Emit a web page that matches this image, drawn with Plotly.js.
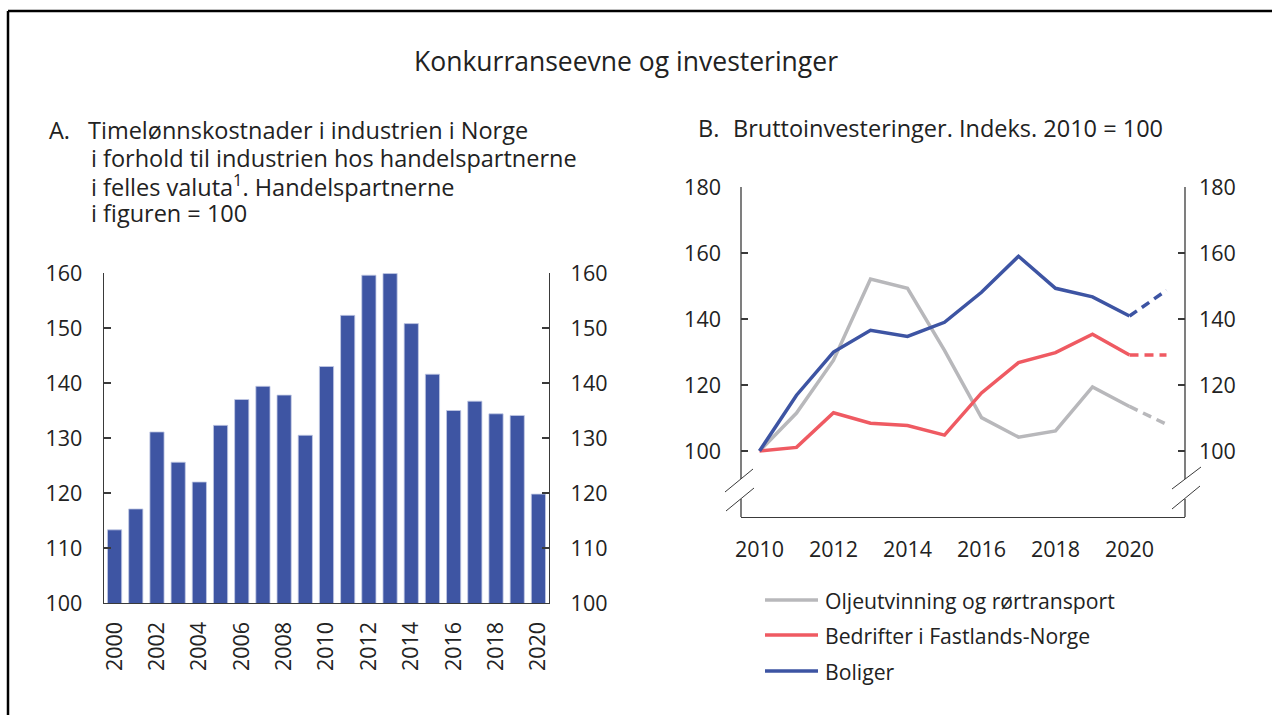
<!DOCTYPE html>
<html><head><meta charset="utf-8">
<script src="https://cdn.plot.ly/plotly-3.0.1.min.js"></script>
<style>html,body{margin:0;padding:0;background:#fff}</style>
</head><body><div id="chart" style="width:1272px;height:715px"></div>
<script>
// ---- Data ----
const barYears = [2000,2001,2002,2003,2004,2005,2006,2007,2008,2009,2010,2011,2012,2013,2014,2015,2016,2017,2018,2019,2020];
const wageCost = [113.3,117.1,131.1,125.6,122.0,132.3,137.0,139.4,137.8,130.5,143.0,152.3,159.6,159.9,150.8,141.6,135.0,136.7,134.4,134.1,119.8];
const barTickVals = [2000,2002,2004,2006,2008,2010,2012,2014,2016,2018,2020];

const lineYears = [2010,2011,2012,2013,2014,2015,2016,2017,2018,2019,2020];
const projYears = [2020,2021];
const seriesNames = ["Oljeutvinning og rørtransport","Bedrifter i Fastlands-Norge","Boliger"];
const oilInv   = [100,111.5,127.5,152.1,149.3,130.5,110.1,104.2,106.1,119.4,113.5];
const oilProj  = [113.5,108.1];
const mainInv  = [100,101.1,111.6,108.4,107.7,104.8,117.6,126.8,129.8,135.4,129.1];
const mainProj = [129.1,129.1];
const homeInv  = [100,116.9,130.0,136.6,134.7,139.0,148.1,159.0,149.3,146.7,140.9];
const homeProj = [140.9,148.7];
const lineTickVals = [2010,2012,2014,2016,2018,2020];
const leftYTicks = [100,110,120,130,140,150,160];
const rightYTicks = [100,120,140,160,180];

const mainTitle = "Konkurranseevne og investeringer";
const titleA = ["Timelønnskostnader i industrien i Norge", "i forhold til industrien hos handelspartnerne",
  "i felles valuta<sup>1</sup>. Handelspartnerne", "i figuren = 100"];
const titleB = "Bruttoinvesteringer. Indeks. 2010 = 100";

// ---- Style ----
const W = 1272, H = 715;
const px = x => x / W, py = y => 1 - y / H;
const FONT = "Open Sans, Noto Sans, sans-serif";
const TXT = "#222222";
const AX = "#3a3a3a";
const colors = ["#b8b8bb", "#ef5a62", "#3d54a3"];
const BAR = "#3e55a3";

const lineSets = [[oilInv, oilProj], [mainInv, mainProj], [homeInv, homeProj]];
const traces = [
  {type: "bar", x: barYears, y: wageCost, xaxis: "x", yaxis: "y",
   marker: {color: BAR, line: {color: "#c3cae4", width: 0.8}}, hoverinfo: "x+y", showlegend: false},
  {type: "scatter", mode: "none", x: barYears, y: wageCost, xaxis: "x", yaxis: "y3", hoverinfo: "skip", showlegend: false},
  {type: "scatter", mode: "none", x: lineYears, y: homeInv, xaxis: "x2", yaxis: "y4", hoverinfo: "skip", showlegend: false}
];
lineSets.forEach((s, i) => {
  traces.push({type: "scatter", mode: "lines", x: lineYears, y: s[0], xaxis: "x2", yaxis: "y2",
    name: seriesNames[i], line: {color: colors[i], width: 3.5}, showlegend: false});
  traces.push({type: "scatter", mode: "lines", x: projYears, y: s[1], xaxis: "x2", yaxis: "y2",
    name: seriesNames[i], line: {color: colors[i], width: 3.5, dash: "9px,6px"}, showlegend: false});
});

const tickFont = {family: FONT, size: 21.5, color: TXT};
const yCommon = {showgrid: false, zeroline: false, ticks: "inside", ticklen: 7, tickwidth: 1.2,
  tickcolor: AX, linecolor: AX, linewidth: 1.3, tickfont: tickFont, fixedrange: true};

const shapes = [];
const seg = (x0, y0, x1, y1, color, width) => shapes.push({type: "line", xref: "paper", yref: "paper",
  x0: px(x0), y0: py(y0), x1: px(x1), y1: py(y1), line: {color: color, width: width}});
// outer frame
seg(8, 11, W + 5, 11, "#000", 2.5);
seg(8, 11, 8, H + 5, "#000", 2.5);
// right-chart vertical axes with break
[741, 1185].forEach(x => { seg(x, 187, x, 479, AX, 1.3); seg(x, 499, x, 517, AX, 1.3); });
// break marks
seg(725, 492, 753, 469, AX, 1); seg(726, 511, 754, 488, AX, 1);
seg(1172, 489, 1201, 467, AX, 1); seg(1172, 509, 1200, 486, AX, 1);
// manual legend swatches
const legY = [600, 635, 671];
legY.forEach((y, i) => seg(765, y, 818, y, colors[i], 3.5));

const ann = (x, y, text, size, anchor) => ({xref: "paper", yref: "paper", x: px(x), y: py(y), text: text,
  showarrow: false, xanchor: anchor || "left", yanchor: "middle", align: "left",
  font: {family: FONT, size: size, color: TXT}});
const annotations = [
  ann(626, 61, mainTitle, 26.5, "center"),
  ann(47, 130, "A.", 23.5),
  ann(696, 128, "B.", 23.5),
  ann(731, 128, titleB, 23.5)
];
const aLineY = [130, 157.7, 185.4, 213];
titleA.forEach((t, i) => annotations.push(ann(i === 0 ? 86 : 89, aLineY[i], t, 23.5)));
legY.forEach((y, i) => annotations.push(ann(823, y, seriesNames[i], 21.2)));

const layout = {
  width: W, height: H, autosize: false,
  margin: {l: 0, r: 0, t: 0, b: 0},
  paper_bgcolor: "#fff", plot_bgcolor: "rgba(0,0,0,0)",
  showlegend: false, bargap: 0.33,
  font: {family: FONT, color: TXT},
  xaxis: {domain: [px(104), px(549)], anchor: "y", range: [1999.5, 2020.5], tickvals: barTickVals,
    tickangle: -90, ticks: "", showline: true, linecolor: AX, linewidth: 1.3, showgrid: false,
    zeroline: false, tickfont: tickFont, ticklabelstandoff: 9, fixedrange: true},
  yaxis: {...yCommon, domain: [py(603), py(273)], anchor: "x", range: [100, 160], tickvals: leftYTicks,
    showline: true, ticklabelstandoff: 16},
  yaxis3: {...yCommon, overlaying: "y", side: "right", anchor: "x", range: [100, 160], tickvals: leftYTicks,
    showline: true, ticklabelstandoff: 16},
  xaxis2: {domain: [px(741), px(1185)], anchor: "y2", range: [2009.5, 2021.5], tickvals: lineTickVals,
    ticks: "", showline: true, linecolor: AX, linewidth: 1.3, showgrid: false, zeroline: false,
    tickfont: tickFont, ticklabelstandoff: 13, fixedrange: true},
  yaxis2: {...yCommon, domain: [py(517), py(187)], anchor: "x2", range: [80, 180], tickvals: rightYTicks,
    showline: false, ticklabelstandoff: 19},
  yaxis4: {...yCommon, overlaying: "y2", side: "right", anchor: "x2", range: [80, 180], tickvals: rightYTicks,
    showline: false, ticklabelstandoff: 13},
  shapes: shapes,
  annotations: annotations
};
Plotly.newPlot("chart", traces, layout, {displayModeBar: false, staticPlot: true});
</script></body></html>
